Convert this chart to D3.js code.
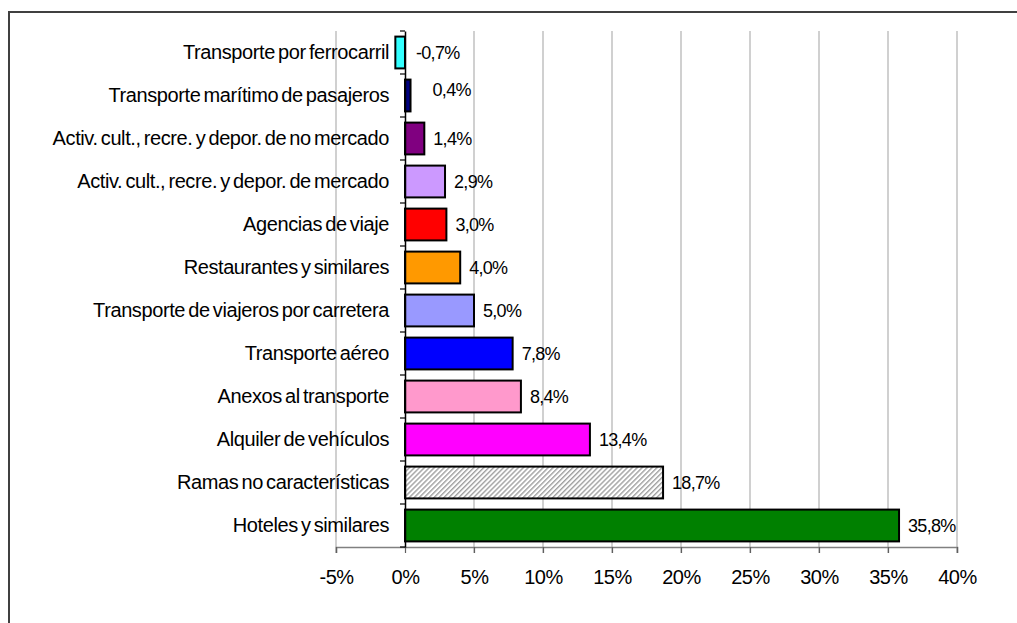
<!DOCTYPE html>
<html><head><meta charset="utf-8">
<script src="https://cdn.jsdelivr.net/npm/d3@7"></script>
<style>
body{margin:0;background:#fff;}
svg{display:block;}
text{font-family:"Liberation Sans",Arial,sans-serif;fill:#000;}
</style></head>
<body>
<svg id="chart" width="1017" height="623"></svg>
<script>
const categories = [
  "Transporte por ferrocarril",
  "Transporte marítimo de pasajeros",
  "Activ. cult., recre. y depor. de no mercado",
  "Activ. cult., recre. y depor. de mercado",
  "Agencias de viaje",
  "Restaurantes y similares",
  "Transporte de viajeros por carretera",
  "Transporte aéreo",
  "Anexos al transporte",
  "Alquiler de vehículos",
  "Ramas no características",
  "Hoteles y similares"
];
const values = [-0.7, 0.4, 1.4, 2.9, 3.0, 4.0, 5.0, 7.8, 8.4, 13.4, 18.7, 35.8];
const colors = ["#33FFFF","#000080","#800080","#CC99FF","#FF0000","#FF9900","#9999FF","#0000FF","#FF99CC","#FF00FF","hatch","#008000"];
const tickValues = [-5, 0, 5, 10, 15, 20, 25, 30, 35, 40];

(function(){
const svg = d3.select("#chart");
svg.append("path").attr("d","M9,623 V12 H1017").attr("fill","none").attr("stroke","#404040").attr("stroke-width",2);

const defs = svg.append("defs");
const pat = defs.append("pattern").attr("id","hatch").attr("patternUnits","userSpaceOnUse")
  .attr("width",3.5).attr("height",3.5).attr("patternTransform","rotate(45)");
pat.append("rect").attr("width",3.5).attr("height",3.5).attr("fill","#fff");
pat.append("rect").attr("width",1.4).attr("height",3.5).attr("fill","#a0a0a0");

const plotTop = 31, plotBottom = 547;
const x = d3.scaleLinear().domain([-5, 40]).range([336, 957]);
const y = d3.scaleBand().domain(categories).range([plotTop, plotBottom]).paddingInner(0.26).paddingOuter(0.13);

svg.append("g").selectAll("line").data(tickValues.filter(d=>d!==0)).join("line")
  .attr("x1",d=>x(d)).attr("x2",d=>x(d)).attr("y1",plotTop).attr("y2",plotBottom+6)
  .attr("stroke","#c0c0c0").attr("stroke-width",1.5);

const xAxis = d3.axisBottom(x).tickValues(tickValues).tickSize(6).tickFormat(d=>d+"%");
const gx = svg.append("g").attr("transform",`translate(0,${plotBottom})`).call(xAxis);
gx.select(".domain").attr("stroke","#808080").attr("stroke-width",1.5);
gx.selectAll(".tick line").attr("stroke","#606060").attr("stroke-width",1.2);
gx.selectAll(".tick text").attr("font-size",20).attr("dy","1.4em").attr("letter-spacing","-0.5px")
  .style("font-family","'Liberation Sans',Arial,sans-serif");

svg.append("g").selectAll("rect").data(categories).join("rect")
  .attr("x",(d,i)=>x(Math.min(0,values[i])))
  .attr("width",(d,i)=>Math.abs(x(values[i])-x(0)))
  .attr("y",d=>y(d))
  .attr("height",y.bandwidth())
  .attr("fill",(d,i)=>colors[i]==="hatch"?"url(#hatch)":colors[i])
  .attr("stroke","#000").attr("stroke-width",2);

const yAxis = d3.axisLeft(y).tickSize(0).tickFormat(d=>d);
const gy = svg.append("g").attr("transform",`translate(${x(0)},0)`).call(yAxis);
gy.select(".domain").attr("stroke","#000").attr("stroke-width",1.5);
gy.selectAll(".tick text").attr("font-size",20).attr("x",-16).attr("letter-spacing","-0.4px")
  .attr("word-spacing","-2px")
  .style("font-family","'Liberation Sans',Arial,sans-serif");
svg.append("g").selectAll("line").data(d3.range(categories.length+1)).join("line")
  .attr("x1",x(0)-5).attr("x2",x(0)).attr("y1",i=>plotTop+i*(plotBottom-plotTop)/categories.length)
  .attr("y2",i=>plotTop+i*(plotBottom-plotTop)/categories.length).attr("stroke","#000").attr("stroke-width",1.2);

svg.append("g").selectAll("text").data(categories).join("text")
  .attr("x",(d,i)=>x(Math.max(0,values[i])) + (values[i]<0?11:(values[i]<1?22:9)))
  .attr("y",d=>y(d)+y.bandwidth()/2 + (d===categories[1]?-6:0))
  .attr("dy","0.35em").attr("font-size",18).attr("letter-spacing","-0.7px")
  .text((d,i)=>values[i].toFixed(1).replace(".",",")+"%");
})();
</script>
</body></html>
